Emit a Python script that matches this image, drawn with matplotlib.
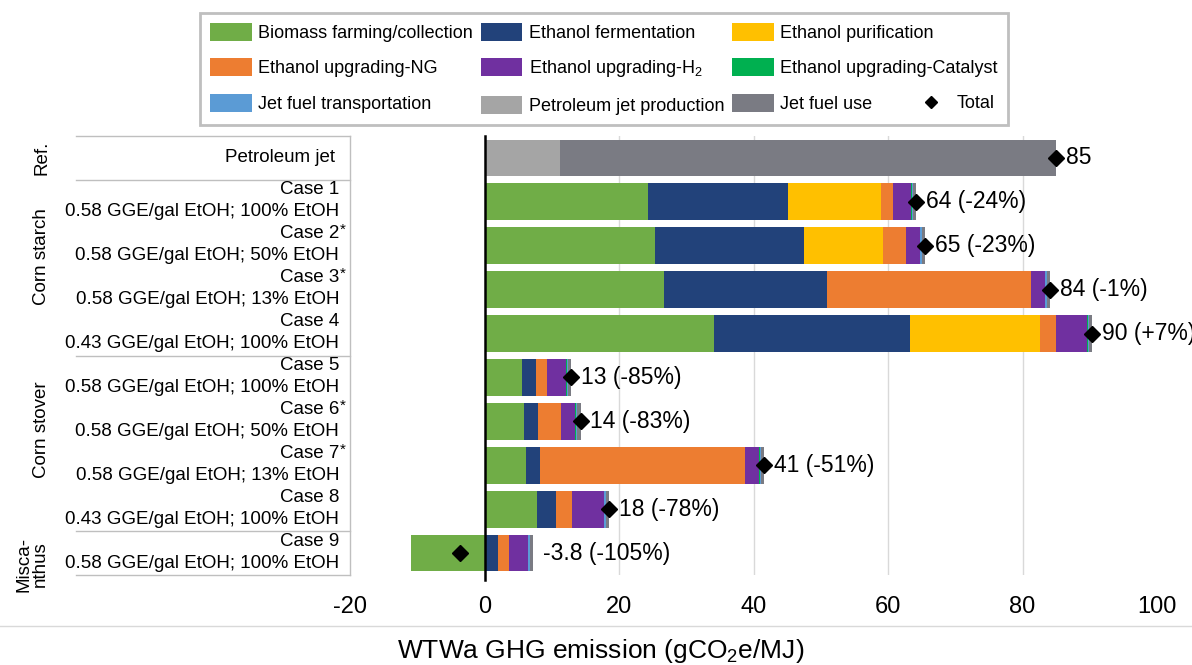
import numpy as np
import matplotlib
matplotlib.use("Agg")
import matplotlib.pyplot as plt
from matplotlib.patches import Patch
from matplotlib.lines import Line2D

plt.rcParams['font.family'] = ['Liberation Sans', 'DejaVu Sans']
plt.rcParams['mathtext.default'] = 'regular'
plt.rcParams['axes.unicode_minus'] = False

# rows, top to bottom
cases = ['Petroleum jet', 'Case 1', 'Case 2', 'Case 3', 'Case 4',
         'Case 5', 'Case 6', 'Case 7', 'Case 8', 'Case 9']
details = ['', '0.58 GGE/gal EtOH; 100% EtOH', '0.58 GGE/gal EtOH; 50% EtOH',
           '0.58 GGE/gal EtOH; 13% EtOH', '0.43 GGE/gal EtOH; 100% EtOH',
           '0.58 GGE/gal EtOH; 100% EtOH', '0.58 GGE/gal EtOH; 50% EtOH',
           '0.58 GGE/gal EtOH; 13% EtOH', '0.43 GGE/gal EtOH; 100% EtOH',
           '0.58 GGE/gal EtOH; 100% EtOH']
starred = [False, False, True, True, False, False, True, True, False, False]
groups = ['Ref.', 'Corn starch', 'Corn stover', 'Misca-\nnthus']

biomass = [0, 24.3, 25.3, 26.7, 34.1, 5.6, 5.8, 6.2, 7.8, -10.9]
fermentation = [0, 20.8, 22.2, 24.2, 29.1, 2.0, 2.1, 2.1, 2.9, 2.0]
purification = [0, 13.8, 11.7, 0, 19.4, 0, 0, 0, 0, 0]
upgrading_ng = [0, 1.8, 3.5, 30.4, 2.4, 1.7, 3.5, 30.4, 2.3, 1.7]
upgrading_h2 = [0, 2.7, 2.0, 2.0, 4.6, 2.8, 2.1, 2.1, 4.7, 2.7]
upgrading_cat = [0, 0.1, 0.1, 0.1, 0.1, 0.1, 0.1, 0.1, 0.1, 0.1]
transport = [0, 0.2, 0.2, 0.2, 0.2, 0.2, 0.2, 0.2, 0.2, 0.2]
petro_prod = [11.3, 0, 0, 0, 0, 0, 0, 0, 0, 0]
jet_use = [73.7, 0.5, 0.5, 0.5, 0.5, 0.5, 0.5, 0.5, 0.5, 0.5]

total_labels = ['85', '64 (-24%)', '65 (-23%)', '84 (-1%)', '90 (+7%)',
                '13 (-85%)', '14 (-83%)', '41 (-51%)', '18 (-78%)', '-3.8 (-105%)']

series = [
    ('Biomass farming/collection', biomass, '#70AD47'),
    ('Ethanol fermentation', fermentation, '#22427A'),
    ('Ethanol purification', purification, '#FFC000'),
    ('Ethanol upgrading-NG', upgrading_ng, '#ED7D31'),
    ('Ethanol upgrading-H$_2$', upgrading_h2, '#7030A0'),
    ('Ethanol upgrading-Catalyst', upgrading_cat, '#00B050'),
    ('Jet fuel transportation', transport, '#5B9BD5'),
    ('Petroleum jet production', petro_prod, '#A5A5A5'),
    ('Jet fuel use', jet_use, '#7A7B83'),
]

fig = plt.figure(figsize=(11.92, 6.65), dpi=100)
ax = fig.add_axes([350 / 1192, 1 - 575 / 665, 807 / 1192, 439 / 665])

y = np.arange(len(cases))
pos = np.zeros(len(cases))
neg = np.zeros(len(cases))
handles = []
for name, vals, color in series:
    v = np.array(vals, dtype=float)
    left = np.where(v >= 0, pos, neg)
    ax.barh(y, v, left=left, height=0.84, color=color, zorder=3)
    pos = pos + np.where(v >= 0, v, 0)
    neg = neg + np.where(v < 0, v, 0)
    handles.append(Patch(facecolor=color, label=name))

totals = pos + neg
ax.plot(totals, y, ls='', marker='D', ms=8.5, color='black', zorder=5)
for yi, xt, lab in zip(y, pos, total_labels):
    ax.annotate(lab, (xt, yi), xytext=(7, 0), textcoords='offset points',
                ha='left', va='center', fontsize=16.5, annotation_clip=False)

ax.set_xlim(-20, 100)
ax.set_ylim(len(cases) - 0.5, -0.5)
ax.set_xticks(np.arange(-20, 101, 20))
ax.set_yticks([])
ax.tick_params(axis='x', length=0, pad=15, labelsize=17)
for s in ax.spines.values():
    s.set_visible(False)

for gx in [20, 40, 60, 80]:
    ax.axvline(gx, color='#d9d9d9', lw=1, zorder=1)
ax.axvline(0, ymin=-0.012, ymax=1, color='black', lw=1.8, zorder=6, clip_on=False)

# label table on the left
tr = ax.get_yaxis_transform()
ax.plot([0, 0], [-0.5, 9.5], transform=tr, color='#bfbfbf', lw=1, clip_on=False)
for yb in [-0.5, 0.5, 4.5, 8.5, 9.5]:
    ax.plot([-0.3395, 0], [yb, yb], transform=tr, color='#bfbfbf', lw=1, clip_on=False)

ax.text(-0.0186, 0, cases[0], transform=tr, ha='right', va='center', fontsize=13.5)
for i in range(1, len(cases)):
    ax.text(-0.0136, i - 0.27, cases[i], transform=tr, ha='right', va='center', fontsize=13.5)
    ax.text(-0.0136, i + 0.23, details[i], transform=tr, ha='right', va='center', fontsize=13.5)
    if starred[i]:
        ax.text(-0.0125, i - 0.36, '*', transform=tr, ha='left', va='center', fontsize=11)

group_y = [0, 2.25, 6.2, 9.25]
group_x = [-0.3817, -0.3817, -0.3817, -0.394]
for gx, gy, g in zip(group_x, group_y, groups):
    ax.text(gx, gy, g, transform=tr, rotation=90, ha='center', va='center',
            fontsize=13.5, multialignment='center', linespacing=1.0)

fig.text(601 / 1192, 1 - 651 / 665, 'WTWa GHG emission (gCO$_2$e/MJ)',
         ha='center', va='center', fontsize=19)
fig.add_artist(Line2D([0, 1], [1 - 626 / 665, 1 - 626 / 665], color='#d9d9d9', lw=1))

# legend (row-wise order in the original -> column-major for matplotlib)
order = [0, 3, 6, 1, 4, 7, 2, 5, 8]
leg = fig.legend(handles=[handles[i] for i in order], ncol=3, loc='upper center',
                 bbox_to_anchor=(604 / 1192, 1 - 13 / 665), borderaxespad=0,
                 fontsize=13, handlelength=2.3, handleheight=1.15,
                 handletextpad=0.35, columnspacing=0.45, labelspacing=0.9,
                 borderpad=0.55, fancybox=False, edgecolor='#bfbfbf', framealpha=1)
leg.get_frame().set_linewidth(2)
fig.legend(handles=[Line2D([], [], ls='', marker='D', ms=6, color='black', label='Total')],
           loc='center left', bbox_to_anchor=(906 / 1192, 1 - 104 / 665),
           fontsize=13, frameon=False, handletextpad=0.9, handlelength=1.0)

fig.savefig('out.png', dpi=100)
